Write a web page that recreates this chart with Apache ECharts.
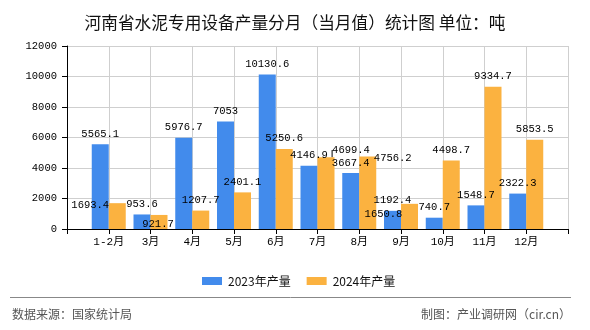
<!DOCTYPE html>
<html>
<head>
<meta charset="utf-8">
<script src="https://cdn.jsdelivr.net/npm/echarts@6/dist/echarts.min.js"></script>
<style>html,body{margin:0;padding:0;background:#fff;}#c{width:590px;height:330px;}</style>
</head>
<body>
<div id="c"></div>
<script>
// ---- data ----
const categories = ['1-2月','3月','4月','5月','6月','7月','8月','9月','10月','11月','12月'];
const prod2023 = [5565.1, 953.6, 5976.7, 7053, 10130.6, 4146.9, 3667.4, 1192.4, 740.7, 1548.7, 2322.3];
const prod2024 = [1693.4, 921.7, 1207.7, 2401.1, 5250.6, 4699.4, 4756.2, 1650.8, 4498.7, 9334.7, 5853.5];
const seriesNames = ['2023年产量', '2024年产量'];
const yMin = 0, yMax = 12000, yStep = 2000;

// ---- style (label displacement as in the reference) ----
const shift2024 = {0: [-27, 12], 1: [-1, 20], 5: [25, 3], 6: [25, 12], 7: [-26, 21]};
const guide2024 = {5: true, 7: true};

const monoFont = '"Liberation Mono", "DejaVu Sans Mono", "Noto Sans CJK SC", monospace';
const cjkFont = '"Noto Sans CJK SC", sans-serif';

const pad = arr => ['-'].concat(arr, ['-']);
const axisCats = [''].concat(categories, ['']);

const data2024 = pad(prod2024).map((v, i) => {
  const k = i - 1;
  if (guide2024[k]) return {value: v, labelLine: {show: true}};
  return v;
});

const chart = echarts.init(document.getElementById('c'), null, {renderer: 'canvas'});
chart.setOption({
  animation: false,
  backgroundColor: '#fff',
  title: {
    text: '河南省水泥专用设备产量分月（当月值）统计图 单位：吨',
    left: 'center', top: 9,
    textStyle: {fontFamily: cjkFont, fontSize: 16.7, fontWeight: 'normal', color: '#111'}
  },
  grid: {left: 67, right: 22, top: 46, bottom: 101, containLabel: false},
  legend: {
    left: 197, top: 270,
    itemWidth: 20, itemHeight: 8, itemGap: 16,
    icon: 'rect',
    textStyle: {fontFamily: cjkFont, fontSize: 12, color: '#111', padding: [0, 0, 0, 1]},
    data: seriesNames
  },
  xAxis: {
    type: 'category',
    data: axisCats,
    boundaryGap: false,
    axisLine: {lineStyle: {color: '#000', width: 1}},
    axisTick: {show: true, length: 5, lineStyle: {color: '#000'}},
    axisLabel: {interval: 0, margin: 8, color: '#000', fontFamily: monoFont, fontSize: 11},
    splitLine: {show: true, lineStyle: {color: '#cfcfcf', width: 1}}
  },
  yAxis: {
    type: 'value',
    min: yMin, max: yMax, interval: yStep,
    axisLine: {show: true, lineStyle: {color: '#000', width: 1}},
    axisTick: {show: true, length: 5, lineStyle: {color: '#000'}},
    axisLabel: {margin: 10, color: '#000', fontFamily: monoFont, fontSize: 10.5, formatter: v => String(v)},
    splitLine: {show: true, lineStyle: {color: '#cfcfcf', width: 1}}
  },
  series: [
    {
      name: seriesNames[0], type: 'bar', data: pad(prod2023),
      barWidth: 17, barGap: '0%',
      itemStyle: {color: '#428BEC'},
      label: {show: true, position: 'top', distance: 5, color: '#000', fontFamily: monoFont, fontSize: 10.5}
    },
    {
      name: seriesNames[1], type: 'bar', data: data2024,
      barWidth: 17, barGap: '0%',
      itemStyle: {color: '#FBB240'},
      label: {show: true, position: 'top', distance: 5, color: '#000', fontFamily: monoFont, fontSize: 10.5},
      labelLine: {show: false, smooth: false, length2: 0, lineStyle: {color: '#000', width: 1}},
      labelLayout: function (p) {
        const s = shift2024[p.dataIndex - 1];
        return s ? {dx: s[0], dy: s[1]} : {};
      }
    }
  ],
  graphic: [
    {type: 'line', shape: {x1: 10, y1: 297.5, x2: 571, y2: 297.5}, style: {stroke: '#888', lineWidth: 1}, silent: true},
    {type: 'text', left: 12, top: 308, style: {text: '数据来源：国家统计局', font: '12px "Noto Sans CJK SC", sans-serif', fill: '#555'}},
    {type: 'text', right: 19, top: 308, style: {text: '制图：产业调研网（cir.cn）', font: '12px "Noto Sans CJK SC", sans-serif', fill: '#555'}}
  ]
});
</script>
</body>
</html>
